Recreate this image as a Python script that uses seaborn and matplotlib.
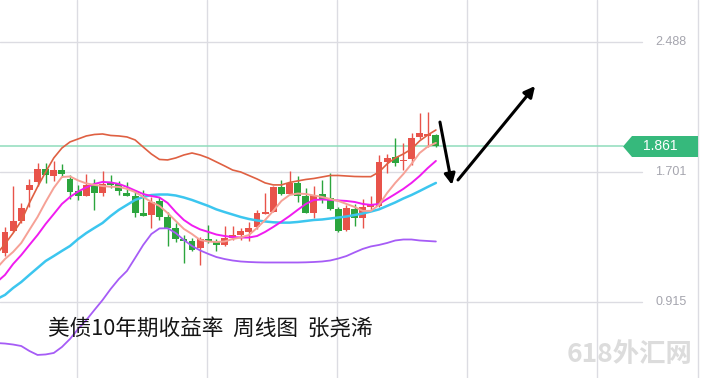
import numpy as np
import pandas as pd
import matplotlib
matplotlib.use("Agg")
import matplotlib.pyplot as plt
import matplotlib.transforms as mtransforms
from matplotlib.patches import Polygon
import seaborn as sns

# ---------------- data (weekly candles, US 10Y yield) ----------------
opens = [1.210, 1.343, 1.406, 1.593, 1.642, 1.723, 1.675, 1.714, 1.657, 1.590,
         1.560, 1.624, 1.578, 1.633, 1.627, 1.578, 1.557, 1.457, 1.442, 1.524,
         1.433, 1.361, 1.297, 1.282, 1.240, 1.297, 1.276, 1.258, 1.303, 1.321,
         1.340, 1.367, 1.451, 1.463, 1.613, 1.572, 1.638, 1.557, 1.456, 1.569,
         1.545, 1.479, 1.352, 1.476, 1.424, 1.489, 1.494, 1.765, 1.793, 1.769,
         1.778, 1.916, 1.920, 1.926]
closes = [1.340, 1.406, 1.482, 1.624, 1.720, 1.681, 1.714, 1.690, 1.584, 1.560,
          1.624, 1.578, 1.630, 1.621, 1.587, 1.560, 1.457, 1.439, 1.518, 1.433,
          1.361, 1.294, 1.282, 1.228, 1.297, 1.282, 1.258, 1.306, 1.321, 1.346,
          1.364, 1.454, 1.463, 1.613, 1.572, 1.638, 1.560, 1.456, 1.563, 1.541,
          1.480, 1.347, 1.486, 1.424, 1.492, 1.507, 1.765, 1.787, 1.759, 1.777,
          1.908, 1.938, 1.929, 1.861]
highs = [1.370, 1.615, 1.515, 1.660, 1.754, 1.757, 1.766, 1.748, 1.684, 1.624,
         1.693, 1.657, 1.711, 1.684, 1.645, 1.639, 1.593, 1.596, 1.548, 1.548,
         1.463, 1.391, 1.321, 1.306, 1.312, 1.382, 1.300, 1.376, 1.373, 1.364,
         1.400, 1.473, 1.575, 1.617, 1.654, 1.708, 1.678, 1.607, 1.617, 1.654,
         1.694, 1.491, 1.503, 1.509, 1.539, 1.560, 1.805, 1.808, 1.906, 1.878,
         1.936, 2.061, 2.067, 1.932]
lows = [1.194, 1.340, 1.394, 1.491, 1.615, 1.636, 1.645, 1.669, 1.536, 1.533,
        1.557, 1.473, 1.554, 1.603, 1.563, 1.557, 1.433, 1.436, 1.361, 1.412,
        1.255, 1.276, 1.152, 1.225, 1.140, 1.270, 1.222, 1.255, 1.291, 1.291,
        1.285, 1.358, 1.448, 1.460, 1.563, 1.569, 1.521, 1.454, 1.422, 1.513,
        1.473, 1.340, 1.346, 1.376, 1.362, 1.473, 1.491, 1.698, 1.736, 1.714,
        1.745, 1.899, 1.855, 1.853]

# indicator lines: one value per week starting one week before the first candle
upper_band = [1.207, 1.267, 1.333, 1.406, 1.515, 1.612, 1.702, 1.787, 1.847, 1.884,
              1.902, 1.920, 1.929, 1.932, 1.923, 1.920, 1.914, 1.896, 1.853, 1.811,
              1.778, 1.775, 1.787, 1.805, 1.817, 1.805, 1.787, 1.763, 1.739, 1.714,
              1.702, 1.681, 1.660, 1.636, 1.624, 1.624, 1.639, 1.648, 1.657, 1.663,
              1.672, 1.681, 1.681, 1.678, 1.675, 1.674, 1.674, 1.702, 1.751, 1.787,
              1.811, 1.841, 1.890, 1.926, 1.956]
ma_fast = [1.122, 1.176, 1.219, 1.273, 1.352, 1.430, 1.521, 1.606, 1.672, 1.675,
           1.651, 1.633, 1.624, 1.617, 1.613, 1.612, 1.600, 1.581, 1.551, 1.521,
           1.497, 1.454, 1.406, 1.358, 1.327, 1.291, 1.282, 1.279, 1.282, 1.297,
           1.306, 1.321, 1.364, 1.412, 1.467, 1.527, 1.563, 1.572, 1.569, 1.560,
           1.551, 1.539, 1.527, 1.509, 1.491, 1.467, 1.467, 1.503, 1.575, 1.636,
           1.690, 1.751, 1.817, 1.856, 1.878]
ma_mid = [1.037, 1.080, 1.146, 1.200, 1.261, 1.321, 1.388, 1.448, 1.509, 1.551,
          1.584, 1.609, 1.630, 1.642, 1.639, 1.630, 1.612, 1.590, 1.569, 1.557,
          1.548, 1.515, 1.460, 1.412, 1.379, 1.355, 1.340, 1.324, 1.315, 1.309,
          1.306, 1.306, 1.315, 1.340, 1.370, 1.402, 1.436, 1.473, 1.509, 1.533,
          1.536, 1.533, 1.530, 1.527, 1.521, 1.509, 1.503, 1.509, 1.539, 1.569,
          1.600, 1.636, 1.678, 1.726, 1.769]
ma_slow = [0.934, 0.959, 1.001, 1.037, 1.080, 1.122, 1.164, 1.194, 1.225, 1.255,
           1.297, 1.333, 1.364, 1.394, 1.436, 1.473, 1.503, 1.533, 1.551, 1.563,
           1.566, 1.566, 1.560, 1.548, 1.533, 1.515, 1.497, 1.476, 1.460, 1.445,
           1.430, 1.418, 1.409, 1.403, 1.398, 1.396, 1.396, 1.400, 1.406, 1.412,
           1.415, 1.421, 1.427, 1.433, 1.442, 1.451, 1.463, 1.476, 1.497, 1.518,
           1.542, 1.563, 1.587, 1.612, 1.636]
lower_band = [0.668, 0.665, 0.659, 0.650, 0.620, 0.596, 0.599, 0.608, 0.644, 0.693,
              0.753, 0.807, 0.868, 0.928, 0.995, 1.055, 1.104, 1.182, 1.261, 1.327,
              1.361, 1.362, 1.333, 1.291, 1.255, 1.228, 1.207, 1.188, 1.176, 1.167,
              1.161, 1.158, 1.156, 1.155, 1.155, 1.155, 1.155, 1.155, 1.156, 1.158,
              1.161, 1.167, 1.179, 1.194, 1.216, 1.237, 1.252, 1.261, 1.273, 1.288,
              1.294, 1.294, 1.288, 1.285, 1.282]

y_ticks = [2.488, 1.701, 0.915]
y_tick_labels = ["2.488", "1.701", "0.915"]
last_price = 1.861
last_price_label = "1.861"
title_text = "美债10年期收益率  周线图  张尧浠"
watermark_text = "618外汇网"

# ---------------- style ----------------
sns.set_theme(style="white")
plt.rcParams["font.family"] = ["Noto Sans CJK SC", "DejaVu Sans"]

W, H = 701, 378
fig = plt.figure(figsize=(W / 100, H / 100), dpi=100)
fig.patch.set_facecolor("white")
ax = fig.add_axes([0, 0, 1, 1])
ax.set_facecolor("white")
for s in ax.spines.values():
    s.set_visible(False)

# scale: candle spacing and value range in the viewport
step_px = 8.13
x0_px = 5.0
ax.set_xlim(-x0_px / step_px, (W - x0_px) / step_px)
ax.set_ylim(0.4566, 2.742)

def fx(px):
    return px / W

def fy(py):
    return 1 - py / H

blend = mtransforms.blended_transform_factory(fig.transFigure, ax.transData)

# grid
grid_col = "#dcdce2"
for v in y_ticks:
    ax.plot([0, fx(642)], [v, v], transform=blend, color=grid_col, lw=1.0, zorder=1)
for px in [77, 207, 337, 467, 597, 698]:
    ax.plot([fx(px), fx(px)], [0, 1], transform=fig.transFigure, color=grid_col,
            lw=1.0, zorder=1)

# last price line
ax.plot([0, fx(623)], [last_price, last_price], transform=blend,
        color="#8fdcbc", lw=1.1, zorder=2)

# candles
o = np.array(opens); c = np.array(closes)
hi = np.array(highs); lo = np.array(lows)
idx = np.arange(len(o))
up = c >= o
red, green = "#e8534a", "#2ba53d"
cols = np.where(up, red, green)
ax.vlines(idx, lo, hi, colors=cols, lw=1.0, zorder=3)
body_bottom = np.minimum(o, c)
body_h = np.maximum(np.abs(c - o), 0.005)
ax.bar(idx, body_h, bottom=body_bottom, width=0.85, color=cols, linewidth=0, zorder=3)

# indicator lines via seaborn
line_idx = np.arange(-1, len(o))
series = [
    ("lower", lower_band, "#a65cf6", 1.3),
    ("slow", ma_slow, "#3cc6ef", 1.8),
    ("mid", ma_mid, "#f01cf0", 1.4),
    ("fast", ma_fast, "#f6a196", 1.4),
    ("upper", upper_band, "#df6042", 1.2),
]
for name, vals, col, lw in series:
    df = pd.DataFrame({"week": line_idx, "value": vals})
    sns.lineplot(data=df, x="week", y="value", color=col, lw=lw, ax=ax,
                 legend=False, zorder=4)
ax.set_xlabel("")
ax.set_ylabel("")
ax.set_xticks([])
ax.set_yticks([])

# right axis labels
for v, lab in zip(y_ticks, y_tick_labels):
    ax.text(fx(655), v, lab, transform=blend, ha="left", va="center",
            fontsize=9, color="#a5a5ae", family=["Liberation Sans", "DejaVu Sans"])

# last price tag
tag = Polygon([(fx(623), fy(146.5)), (fx(632), fy(136)), (fx(698), fy(136)),
               (fx(698), fy(157)), (fx(632), fy(157))], closed=True,
              transform=fig.transFigure, facecolor="#36b97c", edgecolor="none", zorder=6)
fig.patches.append(tag)
fig.text(fx(660), fy(146.5), last_price_label, ha="center", va="center",
         fontsize=10, color="white", family=["Liberation Sans", "DejaVu Sans"], zorder=7)

# title and watermark
fig.text(fx(48), fy(329), title_text, ha="left", va="center", fontsize=15.6,
         color="#151515", zorder=7)
fig.text(fx(567), fy(354), watermark_text, ha="left", va="center", fontsize=19,
         color="#dcdcdc", fontweight="bold", zorder=7)

# drawn arrows
ax.annotate("", xy=(54.98, 1.624), xytext=(53.5, 2.004),
            arrowprops=dict(arrowstyle="-|>", color="black", lw=2.2,
                            mutation_scale=16, shrinkA=0, shrinkB=0), zorder=8)
ax.annotate("", xy=(65.2, 2.222), xytext=(55.72, 1.654),
            arrowprops=dict(arrowstyle="-|>", color="black", lw=2.2,
                            mutation_scale=16, shrinkA=0, shrinkB=0), zorder=8)

fig.savefig("out.png", dpi=100, facecolor="white")
